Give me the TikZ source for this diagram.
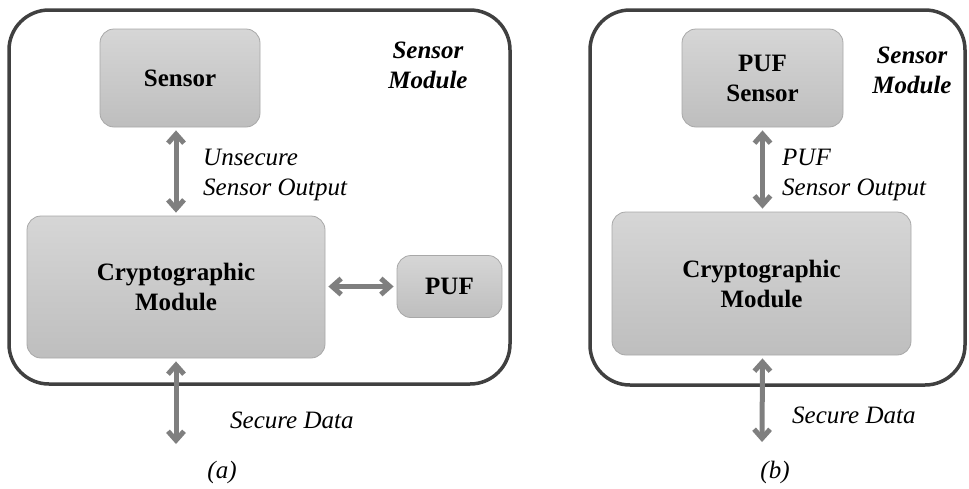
\documentclass[tikz,border=0pt]{standalone}
\usepackage{fontspec}
\setmainfont{Liberation Serif}
\usetikzlibrary{arrows.meta}
\definecolor{frame}{HTML}{404040}
\definecolor{boxline}{HTML}{A8A8A8}
\definecolor{boxtop}{HTML}{D6D6D6}
\definecolor{boxbot}{HTML}{BEBEBE}
\definecolor{arrowgray}{HTML}{7F7F7F}
\begin{document}
\begin{tikzpicture}[x=1pt,y=-1pt,
  box/.style={draw=boxline, line width=0.8pt, rounded corners=14pt, top color=boxtop, bottom color=boxbot,
    font=\fontsize{25}{30}\selectfont\bfseries, align=center, inner sep=0pt},
  outer/.style={draw=frame, line width=3.5pt, rounded corners=40pt, inner sep=0pt},
  link/.style={draw=arrowgray, line width=5pt,
    {Straight Barb[length=9pt,width=16pt]}-{Straight Barb[length=9pt,width=16pt]},
    shorten >=3pt, shorten <=3pt},
  lbl/.style={font=\fontsize{25}{30}\selectfont\itshape, align=left, inner sep=0pt},
  title/.style={font=\fontsize{25}{30}\selectfont\bfseries\itshape, align=center, inner sep=0pt}]
\useasboundingbox (0,0) rectangle (969,488);

% ---------- panel (a)
\node[outer, minimum width=501pt, minimum height=374pt] (outerA) at (259.5,197) {};
\node[box, minimum width=160pt, minimum height=98pt] (sensorA) at (180,78) {Sensor};
\node[box, minimum width=298pt, minimum height=142pt] (cryptoA) at (176,287) {Cryptographic\\Module};
\node[box, minimum width=105pt, minimum height=62pt] (pufA) at (449.5,286.5) {PUF};
\coordinate (outA) at (176,447);
\draw[link] (cryptoA.north) -- (cryptoA.north |- sensorA.south);
\draw[link] (cryptoA.south) -- (outA);
\draw[link] (cryptoA.east |- pufA.west) -- (pufA.west);
\node[lbl, anchor=north west] (lblA) at (203,148.5) {Unsecure\\Sensor Output};
\node[lbl, anchor=base west] (secA) at (230,428) {Secure Data};
\node[title, anchor=north] (modA) at (428,41.5) {Sensor\\Module};
\node[lbl, anchor=base] (capA) at (222,478) {(a)};

% ---------- panel (b)
\node[outer, minimum width=375pt, minimum height=375pt] (outerB) at (777.5,197.5) {};
\node[box, minimum width=161pt, minimum height=98pt] (sensorB) at (762.5,78) {PUF\\Sensor};
\node[box, minimum width=299pt, minimum height=143pt] (cryptoB) at (761.5,283.5) {Cryptographic\\Module};
\coordinate (outB) at (762,445);
\draw[link] (sensorB.south) -- (sensorB.south |- cryptoB.north);
\draw[link] (cryptoB.south -| sensorB.south) -- (outB);
\node[lbl, anchor=north west] (lblB) at (782,148.5) {PUF\\Sensor Output};
\node[lbl, anchor=base west] (secB) at (792,423) {Secure Data};
\node[title, anchor=north] (modB) at (912,46.5) {Sensor\\Module};
\node[lbl, anchor=base] (capB) at (775,478) {(b)};
\end{tikzpicture}
\end{document}
